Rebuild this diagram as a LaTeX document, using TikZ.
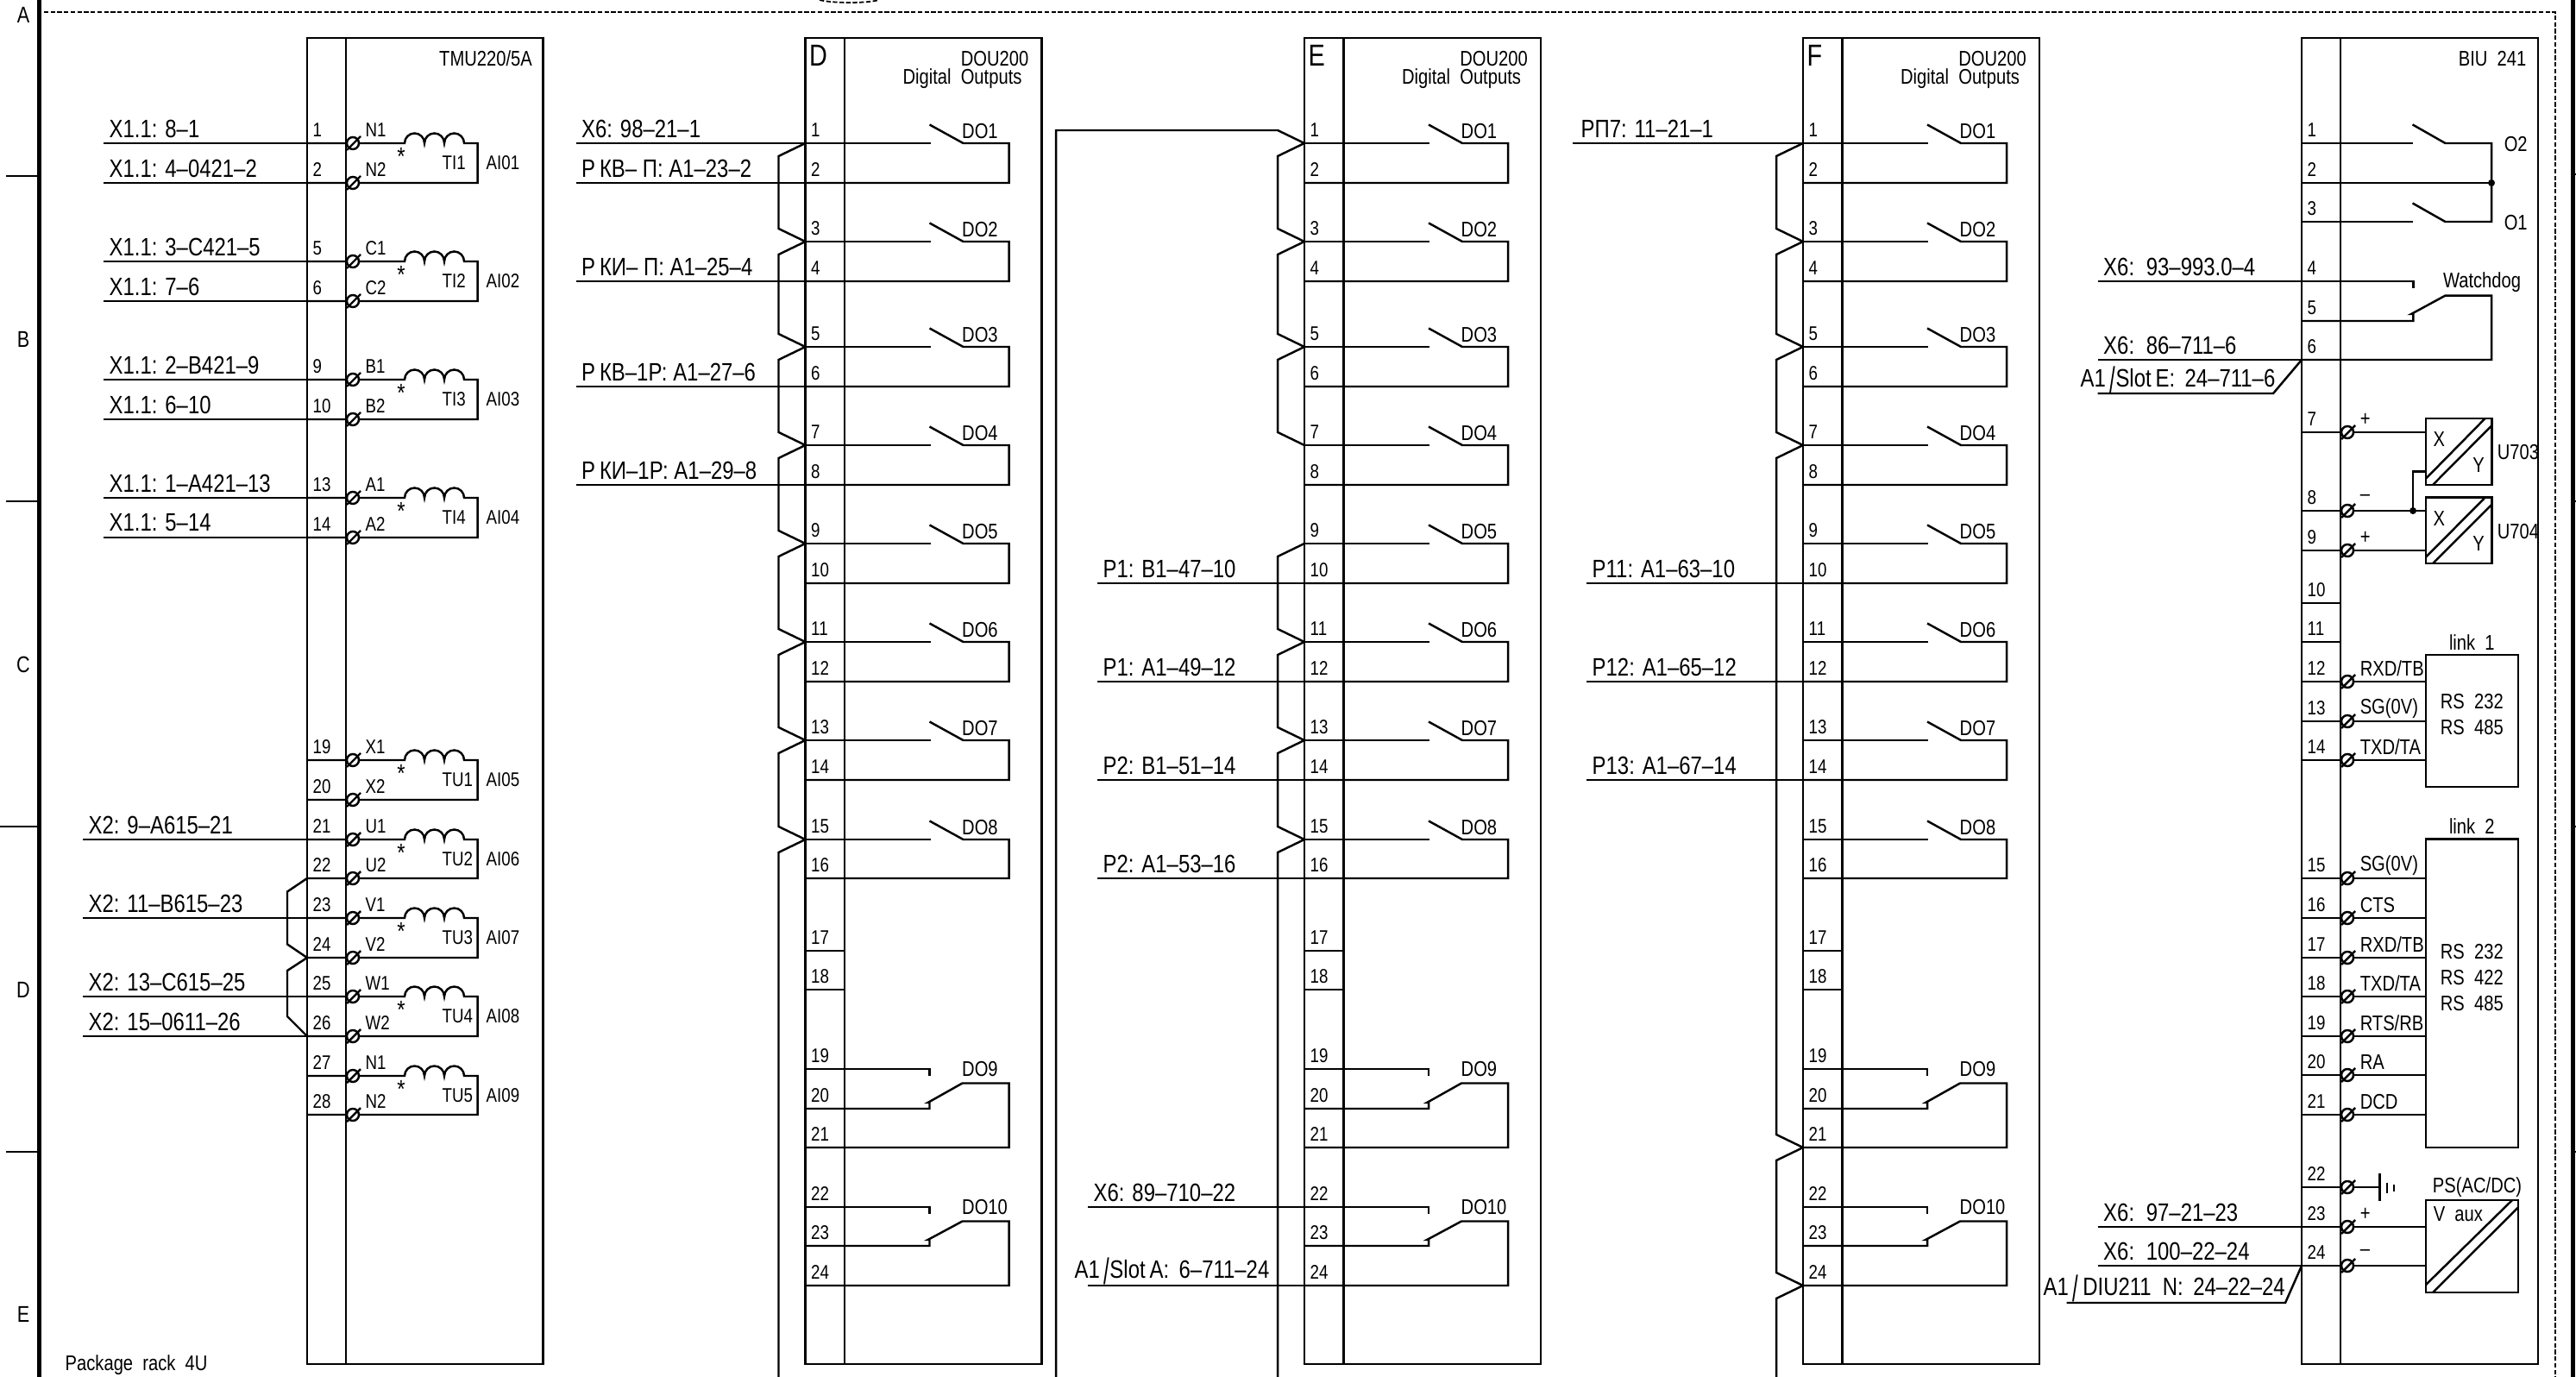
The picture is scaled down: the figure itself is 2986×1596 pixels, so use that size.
\documentclass[tikz,border=0pt]{standalone}
\usepackage{graphicx}
\usepackage{fontspec}
\setmainfont[FakeStretch=0.82]{Liberation Sans}
\tikzset{
    wire/.style={line width=0.7pt},
    heavy/.style={line width=1.4pt},
    dashline/.style={line width=0.5pt,dash pattern=on 1.5pt off 0.7pt},
    bigtxt/.style={font=\fontsize{8.3}{9}\selectfont,inner sep=0pt,anchor=west},
    smalltxt/.style={font=\fontsize{7}{8}\selectfont,inner sep=0pt,anchor=west},
    numtxt/.style={font=\fontsize{6.5}{7}\selectfont,inner sep=0pt,anchor=west},
    midtxt/.style={font=\fontsize{7}{8}\selectfont,inner sep=0pt},
    edgetxt/.style={font=\fontsize{7.5}{8}\selectfont,inner sep=0pt}
}
\newcommand{\bigsl}{\raisebox{-0.4ex}{\scalebox{1}[1.45]{/}}}
\newcommand{\screw}[1]{\draw[wire,fill=white] (53,#1) circle[radius=7];\draw[wire] (46,#1+8) -- (62,#1-8);}
\newcommand{\jump}[4]{\draw[wire] (t#1) -- (-31,#2+15) -- (-31,#4-15) -- (t#3);}
\newcommand{\jumptail}[2]{\draw[wire] (t#1) -- (-31,#2+15) -- (-31,1596);}
\newcommand{\labwires}[1]{\foreach \n/\y/\x/\s in {#1} {
    \coordinate (w\n) at (\x,\y);
    \node[bigtxt] (l\n) at (\x+6,\y-17) {\s};
    \draw[wire] (w\n) -- (t\n);
}}
\newcommand{\doumodule}[1]{
    \draw[wire] (0,44) rectangle (274,1581);
    \draw[wire] (45.5,44) -- (45.5,1581);
    \node[font=\fontsize{10}{11}\selectfont,inner sep=0pt,anchor=west] (slot) at (4,64) {#1};
    \node[midtxt] (type) at (219.5,68) {DOU200};
    \node[midtxt] (title) at (182,91) {Digital\ \ Outputs};
    \foreach \n/\y in {1/166,2/212,3/280,4/326,5/402,6/448,7/516,8/562,9/630,10/676,11/744,12/790,13/858,14/904,15/973,16/1018,17/1102,18/1147,19/1239,20/1285,21/1330,22/1399,23/1444,24/1490} {
        \coordinate (t\n) at (0,\y);
        \node[numtxt] (n\n) at (6,\y-15) {\n};
    }
    \foreach \a/\ya/\b/\yb/\s in {1/166/2/212/DO1,3/280/4/326/DO2,5/402/6/448/DO3,7/516/8/562/DO4,9/630/10/676/DO5,11/744/12/790/DO6,13/858/14/904/DO7,15/973/16/1018/DO8} {
        \draw[wire] (t\a) -- (145,\ya);
        \draw[wire] (144,\ya-21.5) -- (183,\ya) -- (236,\ya) -- (236,\yb) -- (t\b);
        \node[smalltxt] (do\a) at (181,\ya-14) {\s};
    }
    \draw[wire] (t17) -- (45.5,1102);
    \draw[wire] (t18) -- (45.5,1147);
    \foreach \a/\ya/\b/\yb/\c/\yc/\s in {19/1239/20/1285/21/1330/DO9,22/1399/23/1444/24/1490/DO10} {
        \draw[wire] (t\a) -- (144,\ya) -- (144,\ya+8);
        \draw[wire] (t\b) -- (144,\yb) -- (144,\yb-7) -- (142,\yb-7) -- (182,\ya+16.5) -- (236,\ya+16.5) -- (236,\yc) -- (t\c);
        \node[smalltxt] (do\a) at (181,\ya) {\s};
    }
}

\begin{document}
\begin{tikzpicture}[x=0.1mm,y=-0.1mm]
    \useasboundingbox (0,0) rectangle (2986,1596);
    \draw[heavy] (45.5,0) -- (45.5,1596);
    \draw[heavy] (2982,0) -- (2982,1596);
    \draw[dashline] (51,14) -- (2962,14) -- (2962,1596);
    \draw[dashline] (950,0) .. controls (965,4) and (1005,4) .. (1019,0);
    \draw[wire] (7,204) -- (45.5,204);
    \draw[wire] (7,581) -- (45.5,581);
    \draw[wire] (0,958) -- (45.5,958);
    \draw[wire] (7,1335) -- (45.5,1335);
    \foreach \y in {202,581,958,1335} {
        \draw[wire] (2982,\y) -- (2986,\y);
    }
    \foreach \s/\y in {A/17,B/393,C/770,D/1147,E/1523} {
        \node[edgetxt] (zone\s) at (27,\y) {\s};
    }
    \node[smalltxt] (rack) at (75,1582) {Package\ \ rack\ \ 4U};

    \begin{scope}[shift={(356,0)},name prefix=L-]
        \draw[wire] (0,44) rectangle (273.5,1581);
        \draw[wire] (45,44) -- (45,1581);
        \node[midtxt] (type) at (207,68) {TMU220/5A};
        \foreach \a/\ya/\b/\yb/\ca/\cb/\co/\ai in {1/166/2/212/N1/N2/TI1/AI01,5/303/6/349/C1/C2/TI2/AI02,9/440/10/486/B1/B2/TI3/AI03,13/577/14/623/A1/A2/TI4/AI04,19/881/20/927/X1/X2/TU1/AI05,21/973/22/1018/U1/U2/TU2/AI06,23/1064/24/1110/V1/V2/TU3/AI07,25/1155/26/1201/W1/W2/TU4/AI08,27/1247/28/1292/N1/N2/TU5/AI09} {
            \coordinate (t\a) at (0,\ya);
            \coordinate (t\b) at (0,\yb);
            \node[numtxt] (n\a) at (6,\ya-15) {\a};
            \node[numtxt] (n\b) at (6,\yb-15) {\b};
            \draw[wire] (t\a) -- (113,\ya) arc[start angle=180,end angle=360,radius=11.5] arc[start angle=180,end angle=360,radius=11.5] arc[start angle=180,end angle=360,radius=11.5] -- (197.6,\ya) -- (197.6,\yb) -- (t\b);
            \screw{\ya}
            \screw{\yb}
            \node[numtxt] (pa\a) at (67,\ya-15) {\ca};
            \node[numtxt] (pb\a) at (67,\yb-15) {\cb};
            \node[bigtxt,anchor=center] (star\a) at (109,\ya+15) {*};
            \node[numtxt] (coil\a) at (156,\ya+23) {\co};
            \node[numtxt] (ai\a) at (207,\ya+23) {\ai};
        }
        \labwires{1/166/-236/X1.1: 8–1,2/212/-236/X1.1: 4–0421–2,5/303/-236/X1.1: 3–C421–5,6/349/-236/X1.1: 7–6,9/440/-236/X1.1: 2–B421–9,10/486/-236/X1.1: 6–10,13/577/-236/X1.1: 1–A421–13,14/623/-236/X1.1: 5–14,21/973/-260/X2: 9–A615–21,23/1064/-260/X2: 11–B615–23,25/1155/-260/X2: 13–C615–25,26/1201/-260/X2: 15–0611–26}
        \draw[wire] (t22) -- (-23,1033.5) -- (-23,1094.4) -- (t24);
        \draw[wire] (t24) -- (-23,1125) -- (-23,1178) -- (t26);
    \end{scope}

    \begin{scope}[shift={(933.5,0)},name prefix=D-]
        \doumodule{D}
        \labwires{1/166/-266/X6: 98–21–1,2/212/-266/Р\,КВ– П: А1–23–2,4/326/-266/Р\,КИ– П: А1–25–4,6/448/-266/Р\,КВ–1Р: А1–27–6,8/562/-266/Р\,КИ–1Р: А1–29–8}
        \jump{1}{166}{3}{280}
        \jump{3}{280}{5}{402}
        \jump{5}{402}{7}{516}
        \jump{7}{516}{9}{630}
        \jump{9}{630}{11}{744}
        \jump{11}{744}{13}{858}
        \jump{13}{858}{15}{973}
        \jumptail{15}{973}
    \end{scope}

    \begin{scope}[shift={(1512,0)},name prefix=E-]
        \doumodule{E}
        \labwires{10/676/-240/P1: B1–47–10,12/790/-240/P1: A1–49–12,14/904/-240/P2: B1–51–14,16/1018/-240/P2: A1–53–16}
        \coordinate (w22) at (-251.5,1399);
        \node[bigtxt] (l22) at (-245,1382) {X6: 89–710–22};
        \draw[wire] (w22) -- (t22);
        \coordinate (w24) at (-251.5,1490);
        \node[bigtxt] (l24) at (-267,1473) {A1\,\bigsl Slot\,A:\, 6–711–24};
        \draw[wire] (w24) -- (t24);
        \coordinate (feedA) at (-31,151);
        \coordinate (feedB) at (-288,151);
        \coordinate (feedC) at (-288,1596);
        \draw[wire] (t1) -- (feedA) -- (feedB) -- (feedC);
        \jump{1}{166}{3}{280}
        \jump{3}{280}{5}{402}
        \jump{5}{402}{7}{516}
        \jump{9}{630}{11}{744}
        \jump{11}{744}{13}{858}
        \jump{13}{858}{15}{973}
        \jumptail{15}{973}
    \end{scope}

    \begin{scope}[shift={(2090,0)},name prefix=F-]
        \doumodule{F}
        \labwires{10/676/-251/P11: A1–63–10,12/790/-251/P12: A1–65–12,14/904/-251/P13: A1–67–14}
        \coordinate (w1) at (-267,166);
        \node[bigtxt] (l1) at (-258,149) {РП7: 11–21–1};
        \draw[wire] (w1) -- (t1);
        \jump{1}{166}{3}{280}
        \jump{3}{280}{5}{402}
        \jump{5}{402}{7}{516}
        \jump{7}{516}{21}{1330}
        \jump{21}{1330}{24}{1490}
        \jumptail{24}{1490}
    \end{scope}

    \begin{scope}[shift={(2668,0)},name prefix=B-]
        \draw[wire] (0,44) rectangle (274,1581);
        \draw[wire] (45,44) -- (45,1581);
        \node[midtxt] (type) at (221,68) {BIU\ \ 241};
        \foreach \n/\y in {1/166,2/212,3/257,4/326,5/372,6/417,7/501,8/592,9/638,10/699,11/744,12/790,13/836,14/881,15/1018,16/1064,17/1110,18/1155,19/1201,20/1246,21/1292,22/1376,23/1422,24/1467} {
            \coordinate (t\n) at (0,\y);
            \node[numtxt] (n\n) at (6,\y-15) {\n};
        }
        \draw[wire] (t1) -- (129.4,166);
        \draw[wire] (t3) -- (129.4,257);
        \draw[wire] (128.5,144.4) -- (166.4,166) -- (220,166) -- (220,257) -- (166.4,257) -- (128.5,235.5);
        \coordinate (j1) at (220,212);
        \draw[wire] (t2) -- (j1);
        \fill (j1) circle[radius=4];
        \node[smalltxt] (o2) at (234,167) {O2};
        \node[smalltxt] (o1) at (234,257.6) {O1};
        \draw[wire] (t4) -- (129.4,326) -- (129.4,334);
        \draw[wire] (t5) -- (129.4,372) -- (129.4,364) -- (127,364) -- (166.4,342.6) -- (220,342.6) -- (220,417) -- (t6);
        \node[midtxt] (wd) at (209,327) {Watchdog};
        \labwires{4/326/-236.5/X6:\, 93–993.0–4,6/417/-236.5/X6:\, 86–711–6,23/1422/-236.5/X6:\, 97–21–23,24/1467/-236.5/X6:\, 100–22–24}
        \coordinate (e1) at (-33,456);
        \coordinate (e2) at (-236.5,456);
        \draw[wire] (t6) -- (e1) -- (e2);
        \node[bigtxt] (slotE) at (-257,440) {A1\,\bigsl Slot\,E:\, 24–711–6};
        \coordinate (g1) at (-19,1510);
        \coordinate (g2) at (-272.4,1510);
        \draw[wire] (t24) -- (g1) -- (g2);
        \node[bigtxt] (diu) at (-300,1493) {A1\,\bigsl\,DIU211\ \ N:\, 24–22–24};

        \foreach \n/\y in {10/699,11/744} {
            \draw[wire] (t\n) -- (45,\y);
        }
        \foreach \n/\y/\s in {7/501/+,8/592/–,9/638/+,12/790/{RXD/TB},13/836/SG(0V),14/881/{TXD/TA},15/1018/SG(0V),16/1064/CTS,17/1110/{RXD/TB},18/1155/{TXD/TA},19/1201/{RTS/RB},20/1246/RA,21/1292/DCD,23/1422/+,24/1467/–} {
            \draw[wire] (t\n) -- (144,\y);
            \screw{\y}
            \node[smalltxt] (s\n) at (67,\y-15) {\s};
        }
        \draw[wire] (t22) -- (90.6,1376);
        \screw{1376}
        \draw[wire] (90.6,1360) -- (90.6,1391.7);
        \draw[wire] (99,1370.7) -- (99,1383);
        \draw[wire] (106.7,1373) -- (106.7,1381);

        \foreach \u/\yt/\yb in {U703/485/562,U704/576.6/653} {
            \draw[wire] (144,\yt) rectangle (220.5,\yb);
            \draw[wire] (144,\yb-7.3) -- (212.6,\yt);
            \draw[wire] (152,\yb) -- (220.5,\yt+8);
            \node[midtxt] (x\u) at (159.4,\yt+24) {X};
            \node[midtxt] (y\u) at (205,\yb-23) {Y};
            \node[smalltxt] (\u) at (226,\yt+39) {\u};
        }
        \coordinate (j2) at (129,592);
        \fill (j2) circle[radius=4];
        \draw[wire] (j2) -- (129,546.7) -- (144,546.7);

        \draw[wire] (144,759) rectangle (251,912);
        \node[midtxt] (link1) at (197.3,745) {link\ \ 1};
        \node[midtxt] (rsA) at (197.3,813) {RS\ \ 232};
        \node[midtxt] (rsB) at (197.3,843) {RS\ \ 485};
        \draw[wire] (144,972.7) rectangle (251,1330);
        \node[midtxt] (link2) at (197.3,957.7) {link\ \ 2};
        \node[midtxt] (rsC) at (197.3,1102.7) {RS\ \ 232};
        \node[midtxt] (rsD) at (197.3,1132.7) {RS\ \ 422};
        \node[midtxt] (rsE) at (197.3,1162.7) {RS\ \ 485};

        \draw[wire] (144,1391) rectangle (251,1498);
        \draw[wire] (144,1489) -- (244,1391);
        \draw[wire] (152,1498) -- (251,1399.3);
        \node[midtxt] (ps) at (203.5,1376) {PS(AC/DC)};
        \node[smalltxt] (vaux) at (152,1407) {V\ \ aux};
    \end{scope}
\end{tikzpicture}
\end{document}
